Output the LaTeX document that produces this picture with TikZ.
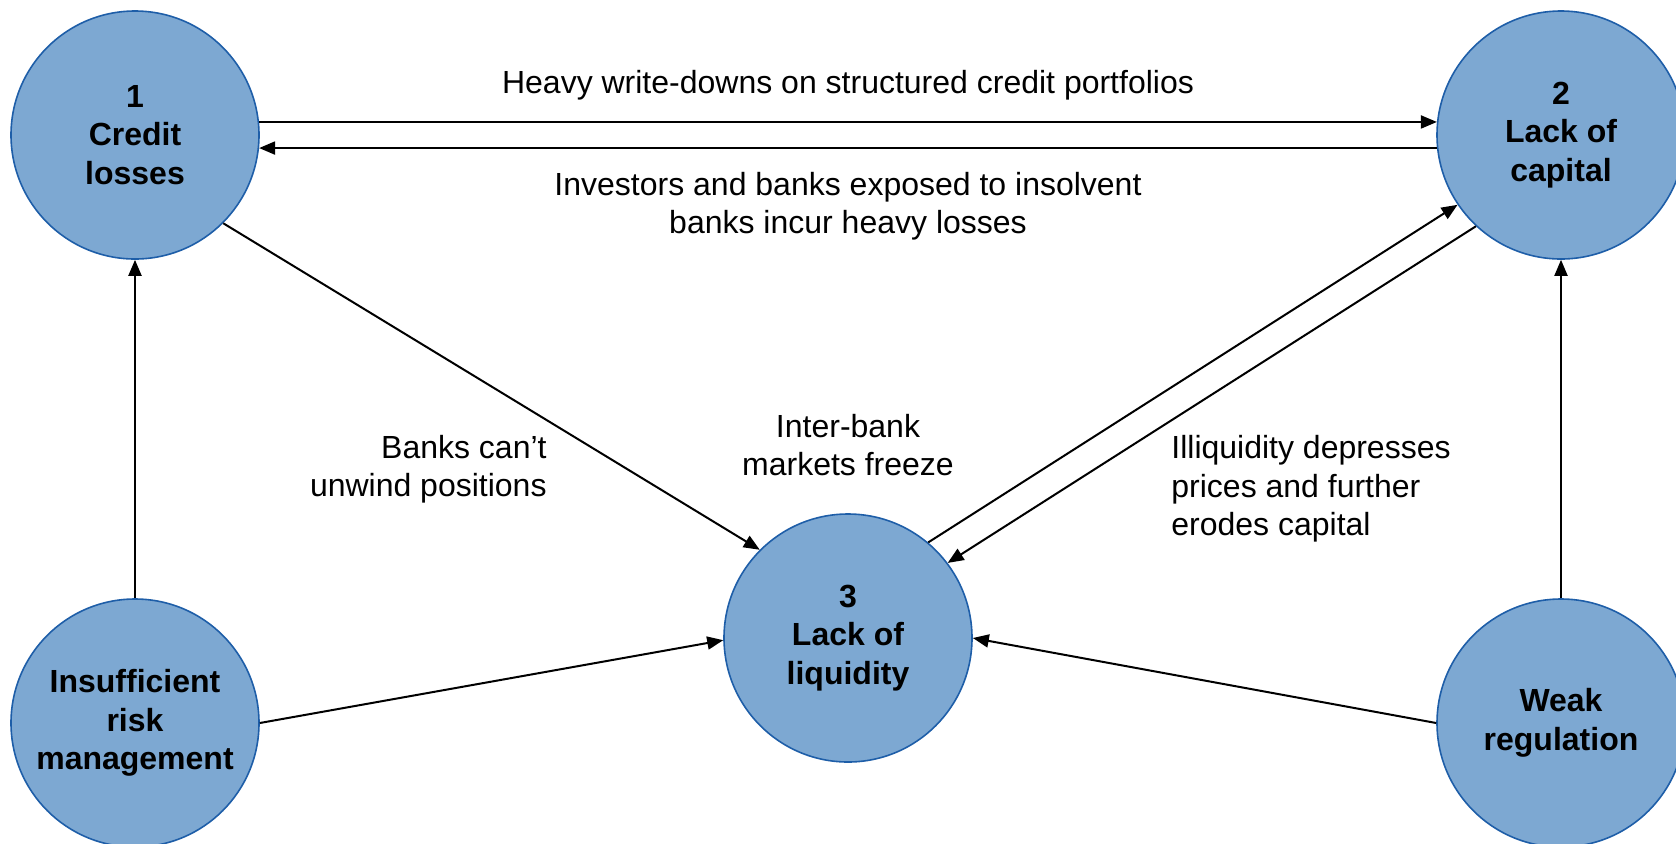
\documentclass[tikz,border=0pt]{standalone}
\usepackage{fontspec}
\setmainfont{Liberation Sans}
\usetikzlibrary{arrows.meta}
\definecolor{bubblefill}{RGB}{125,168,210}
\definecolor{bubbleline}{RGB}{30,94,168}
\begin{document}
\begin{tikzpicture}[x=0.5pt,y=-0.5pt,
  bubble/.style={circle, draw=bubbleline, line width=0.8pt, fill=bubblefill,
    minimum size=124pt, inner sep=0pt, align=center,
    font=\fontsize{16}{19.25}\selectfont\bfseries},
  lbl/.style={inner sep=0pt, font=\fontsize{16}{19.25}\selectfont},
  arr/.style={line width=1pt, -{Triangle[length=8pt,width=6.5pt]}}]
\useasboundingbox (0,0) rectangle (1676,843);
\clip (0,0) rectangle (1676,843);

% factors
\node[bubble] (c1) at (135,135) {1\\Credit\\losses};
\node[bubble] (c2) at (1561,135) {2\\Lack of\\capital};
\node[bubble] (c3) at (848,638) {3\\Lack of\\liquidity};
\node[bubble] (c4) at (135,723) {Insufficient\\risk\\management};
\node[bubble] (c5) at (1561,723) {Weak\\regulation};

% feedback links
\draw[arr] (c1.6) -- (c2.174);
\draw[arr] (c2.186) -- (c1.-6);
\draw[arr] (c1.-45) -- (c3.135);
\draw[arr] (c3.50) -- (c2.214);
\draw[arr] (c2.227) -- (c3.37);
\draw[arr] (c4.north) -- (c1.south);
\draw[arr] (c5.north) -- (c2.south);
\draw[arr] (c4.east) -- (c3.181);
\draw[arr] (c5.west) -- (c3.east);

% captions
\node[lbl] (t1) at (848,85) {Heavy write-downs on structured credit portfolios};
\node[lbl, align=center] (t2) at (848,206) {Investors and banks exposed to insolvent\\banks incur heavy losses};
\node[lbl, align=right, anchor=east] (t3) at (547,469) {Banks can’t\\unwind positions};
\node[lbl, align=center] (t4) at (848,445) {Inter-bank\\markets freeze};
\node[lbl, align=left, anchor=west] (t5) at (1171,489) {Illiquidity depresses\\prices and further\\erodes capital};
\end{tikzpicture}
\end{document}
